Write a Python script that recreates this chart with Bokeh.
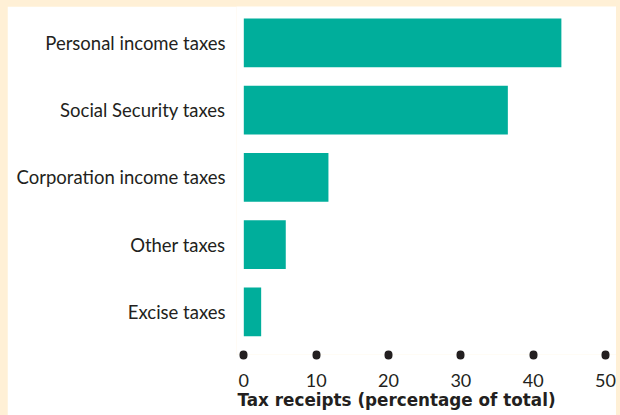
from bokeh.plotting import figure
from bokeh.models import Range1d, FixedTicker, ColumnDataSource, GlobalInlineStyleSheet, Title
from bokeh.embed import file_html
from bokeh.resources import INLINE

# ---- data ----
categories = ["Personal income taxes", "Social Security taxes",
              "Corporation income taxes", "Other taxes", "Excise taxes"]
shares = [43.9, 36.5, 11.7, 5.8, 2.4]
x_ticks = [0, 10, 20, 30, 40, 50]
x_title = "Tax receipts (percentage of total)"

positions = list(range(len(categories)))[::-1]  # first category on top
source = ColumnDataSource(dict(cat=categories, share=shares, pos=positions))

FONT = "Lato"
TEXT = "#231f20"
BAR = "#00ae9b"
CREAM = "#fff0d6"

p = figure(width=609, height=409, output_backend="svg", toolbar_location=None,
           x_range=Range1d(-1.01, 51.52), y_range=Range1d(-0.635, 4.54),
           min_border_left=229, min_border_right=0, min_border_top=0,
           min_border_bottom=61)
p.stylesheets = [GlobalInlineStyleSheet(
    css=f"html, body {{ background: {CREAM} !important; }} "
        f"body {{ padding: 6px 0 0 7px !important; margin: 0 !important; }}")]

p.hbar(y="pos", left=0, right="share", height=0.724, source=source,
       fill_color=BAR, line_color=None)

p.background_fill_color = "white"
p.border_fill_color = "white"
p.outline_line_color = None
p.grid.visible = False

# x axis: round dots as ticks
xa = p.xaxis[0]
xa.ticker = FixedTicker(ticks=x_ticks)
xa.axis_line_color = None
xa.major_tick_in = 0
xa.major_tick_out = 1
xa.major_tick_line_width = 8
xa.major_tick_line_cap = "round"
xa.major_tick_line_color = TEXT
xa.minor_tick_line_color = None
xa.major_label_standoff = 18
xa.major_label_text_font = FONT
xa.major_label_text_font_size = "18px"
xa.major_label_text_color = TEXT

p.add_layout(Title(text=x_title, align="left", offset=1, standoff=-4,
                   text_font="DejaVu Sans", text_font_size="16.8px",
                   text_font_style="bold", text_color=TEXT), "below")

# y axis: category names
ya = p.yaxis[0]
ya.ticker = FixedTicker(ticks=positions)
ya.major_label_overrides = {pos: cat for pos, cat in zip(positions, categories)}
ya.axis_line_color = None
ya.major_tick_line_color = None
ya.minor_tick_line_color = None
ya.major_tick_in = 0
ya.major_tick_out = 0
ya.major_label_standoff = 11
ya.major_label_text_font = FONT
ya.major_label_text_font_size = "18.5px"
ya.major_label_text_color = TEXT

open("out.html", "w").write(file_html(p, INLINE))
